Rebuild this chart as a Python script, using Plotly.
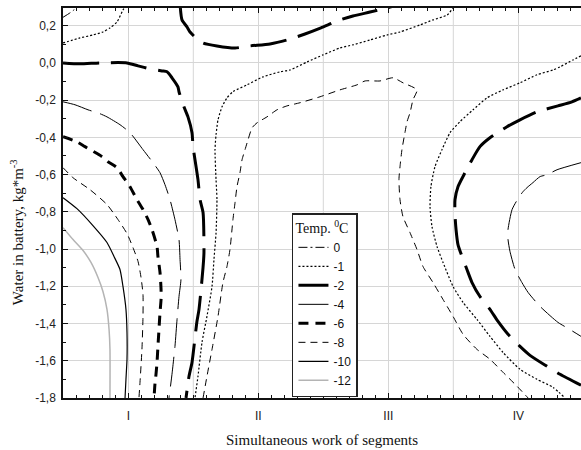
import plotly.graph_objects as go

# Axis categories and ticks
segment_names = ["I", "II", "III", "IV"]
segment_pos = [1, 2, 3, 4]
half_steps = [1.5, 2.5, 3.5]
water_vals = [0.2, 0.0, -0.2, -0.4, -0.6, -0.8, -1.0, -1.2, -1.4, -1.6, -1.8]
water_text = ["0,2", "0,0", "-0,2", "-0,4", "-0,6", "-0,8", "-1,0", "-1,2", "-1,4", "-1,6", "-1,8"]

# Isotherm 0 degC
t0_a_x = [0.498, 0.55, 0.61]
t0_a_y = [0.245, 0.268, 0.3]

# Isotherm -1 degC
t1_a_x = [0.498, 0.628, 0.728, 0.805, 0.859, 0.913, 0.959, 0.99]
t1_a_y = [0.107, 0.134, 0.15, 0.166, 0.188, 0.22, 0.284, 0.316]
t1_b_x = [3.521, 3.498, 3.452, 3.344, 3.244, 3.09, 2.99, 2.859, 2.728, 2.628, 2.498, 2.375,
          2.244, 2.167, 2.036, 1.913, 1.805, 1.759, 1.721, 1.69, 1.675, 1.667, 1.675, 1.682,
          1.675, 1.659, 1.644, 1.605, 1.567, 1.536, 1.513]
t1_b_y = [0.316, 0.295, 0.257, 0.231, 0.204, 0.166, 0.15, 0.123, 0.097, 0.08, 0.043, 0.005,
          -0.038, -0.048, -0.075, -0.118, -0.155, -0.188, -0.236, -0.306, -0.386, -0.466, -0.627, -0.735,
          -0.912, -1.056, -1.201, -1.362, -1.501, -1.684, -1.8]
t1_c_x = [4.482, 4.421, 4.321, 4.267, 4.144, 4.013, 3.882, 3.759, 3.652, 3.551, 3.475, 3.413,
          3.359, 3.328, 3.321, 3.336, 3.375, 3.421, 3.498, 3.575, 3.682, 3.782, 3.882, 4.013,
          4.144, 4.267, 4.359]
t1_c_y = [0.038, 0.016, -0.021, -0.038, -0.064, -0.107, -0.145, -0.188, -0.252, -0.316, -0.375, -0.466,
          -0.558, -0.665, -0.772, -0.879, -0.987, -1.072, -1.201, -1.287, -1.378, -1.469, -1.555, -1.646,
          -1.7, -1.743, -1.8]

# Isotherm -2 degC
t2_a_x = [1.398, 1.413, 1.452, 1.475, 1.528, 1.575, 1.682, 1.821, 1.936, 2.09, 2.221, 2.359,
          2.482, 2.628, 2.728, 2.859, 2.99, 3.09]
t2_a_y = [0.316, 0.231, 0.193, 0.166, 0.129, 0.107, 0.091, 0.08, 0.091, 0.102, 0.123, 0.155,
          0.188, 0.231, 0.252, 0.273, 0.295, 0.316]
t2_b_x = [0.498, 0.628, 0.782, 0.99, 1.075, 1.167, 1.259, 1.298, 1.336, 1.382, 1.39, 1.428,
          1.459, 1.49, 1.498, 1.513, 1.536, 1.552, 1.575, 1.582, 1.575, 1.544, 1.528, 1.49,
          1.467, 1.444]
t2_b_y = [0.0, -0.005, 0.0, 0.0, -0.016, -0.032, -0.043, -0.048, -0.08, -0.129, -0.155, -0.236,
          -0.29, -0.375, -0.45, -0.52, -0.627, -0.735, -0.804, -1.019, -1.099, -1.324, -1.389, -1.609,
          -1.684, -1.8]
t2_c_x = [4.482, 4.413, 4.305, 4.144, 4.013, 3.913, 3.782, 3.705, 3.644, 3.59, 3.536, 3.513,
          3.513, 3.521, 3.536, 3.567, 3.605, 3.644, 3.705, 3.782, 3.844, 3.921, 4.013, 4.09,
          4.221, 4.321, 4.482]
t2_c_y = [-0.188, -0.209, -0.231, -0.263, -0.306, -0.343, -0.402, -0.45, -0.52, -0.59, -0.665, -0.735,
          -0.815, -0.895, -0.976, -1.04, -1.11, -1.18, -1.255, -1.324, -1.389, -1.458, -1.523, -1.571,
          -1.63, -1.673, -1.732]

# Isotherm -4 degC
t4_a_x = [0.498, 0.59, 0.69, 0.782, 0.836, 0.936, 1.013, 1.113, 1.19, 1.244, 1.282, 1.321,
          1.359, 1.39, 1.398, 1.405, 1.39, 1.375, 1.359, 1.336, 1.313]
t4_a_y = [-0.209, -0.225, -0.252, -0.273, -0.29, -0.332, -0.375, -0.466, -0.536, -0.59, -0.654, -0.735,
          -0.842, -0.949, -1.056, -1.164, -1.255, -1.378, -1.523, -1.673, -1.8]
t4_b_x = [4.482, 4.298, 4.221, 4.167, 4.113, 4.067, 4.036, 3.998, 3.952, 3.921, 3.921, 3.936,
          3.975, 4.028, 4.075, 4.167, 4.305, 4.382, 4.482]
t4_b_y = [-0.536, -0.574, -0.601, -0.611, -0.643, -0.67, -0.692, -0.729, -0.788, -0.895, -0.949, -1.013,
          -1.11, -1.18, -1.233, -1.308, -1.394, -1.426, -1.469]

# Isotherm -6 degC
t6_x = [0.498, 0.605, 0.667, 0.798, 0.844, 0.913, 0.959, 1.013, 1.067, 1.113, 1.152, 1.182,
        1.221, 1.228, 1.244, 1.252, 1.252, 1.244, 1.236, 1.228, 1.221, 1.213, 1.205, 1.198]
t6_y = [-0.397, -0.424, -0.45, -0.504, -0.531, -0.563, -0.611, -0.665, -0.735, -0.788, -0.842, -0.895,
        -0.987, -1.04, -1.126, -1.217, -1.271, -1.34, -1.432, -1.523, -1.609, -1.673, -1.726, -1.8]

# Isotherm -8 degC
t8_a_x = [0.498, 0.575, 0.705, 0.836, 0.921, 0.99, 1.036, 1.075, 1.098, 1.113, 1.113, 1.105,
          1.09, 1.082]
t8_a_y = [-0.563, -0.617, -0.681, -0.761, -0.842, -0.917, -0.992, -1.067, -1.153, -1.244, -1.362, -1.539,
          -1.716, -1.8]
t8_b_x = [1.575, 1.605, 1.644, 1.69, 1.728, 1.759, 1.782, 1.805, 1.821, 1.836, 1.859, 1.875,
          1.898, 1.921, 1.952, 1.99, 2.067, 2.144, 2.221, 2.321, 2.475, 2.628, 2.759, 2.821,
          2.936, 3.036, 3.113, 3.221, 3.19, 3.167, 3.144, 3.128, 3.105, 3.09, 3.082, 3.09,
          3.113, 3.167, 3.221, 3.267, 3.344, 3.421, 3.498, 3.575, 3.682, 3.782, 3.882, 3.99,
          4.075]
t8_b_y = [-1.8, -1.684, -1.539, -1.362, -1.18, -1.094, -1.003, -0.842, -0.751, -0.665, -0.59, -0.52,
          -0.466, -0.413, -0.349, -0.322, -0.29, -0.252, -0.231, -0.214, -0.182, -0.145, -0.118, -0.097,
          -0.097, -0.08, -0.107, -0.145, -0.198, -0.268, -0.316, -0.375, -0.466, -0.558, -0.627, -0.735,
          -0.826, -0.912, -1.003, -1.094, -1.18, -1.271, -1.362, -1.458, -1.539, -1.592, -1.662, -1.737,
          -1.8]

# Isotherm -10 degC
t10_x = [0.498, 0.605, 0.728, 0.836, 0.89, 0.936, 0.959, 0.982, 0.99, 0.99, 0.982, 0.975]
t10_y = [-0.724, -0.783, -0.874, -0.965, -1.04, -1.11, -1.201, -1.324, -1.448, -1.592, -1.7, -1.8]

# Isotherm -12 degC
t12_x = [0.498, 0.575, 0.652, 0.713, 0.767, 0.805, 0.836, 0.852, 0.859, 0.859]
t12_y = [-0.885, -0.949, -1.008, -1.072, -1.153, -1.228, -1.324, -1.432, -1.539, -1.8]

isotherms = [
    ("0", [(t0_a_x, t0_a_y)]),
    ("-1", [(t1_a_x, t1_a_y), (t1_b_x, t1_b_y), (t1_c_x, t1_c_y)]),
    ("-2", [(t2_a_x, t2_a_y), (t2_b_x, t2_b_y), (t2_c_x, t2_c_y)]),
    ("-4", [(t4_a_x, t4_a_y), (t4_b_x, t4_b_y)]),
    ("-6", [(t6_x, t6_y)]),
    ("-8", [(t8_a_x, t8_a_y), (t8_b_x, t8_b_y)]),
    ("-10", [(t10_x, t10_y)]),
    ("-12", [(t12_x, t12_y)]),
]

line_styles = {
    "0": dict(color="black", width=1, dash="9px,3px,2px,3px"),
    "-1": dict(color="black", width=1.2, dash="2px,2px"),
    "-2": dict(color="black", width=3, dash="36px,12px"),
    "-4": dict(color="black", width=1, dash="30px,9px"),
    "-6": dict(color="black", width=3, dash="10px,7px"),
    "-8": dict(color="black", width=1, dash="7px,5px"),
    "-10": dict(color="black", width=1.2),
    "-12": dict(color="#b4b4b4", width=1.5),
}

fig = go.Figure()
for name, parts in isotherms:
    for i, (xs, ys) in enumerate(parts):
        fig.add_trace(go.Scatter(
            x=xs, y=ys, mode="lines", name=name,
            legendgroup=name, showlegend=(i == 0),
            line=dict(**line_styles[name], shape="spline", smoothing=0.6),
            hoverinfo="skip",
        ))

sans = "Liberation Sans, Arial, sans-serif"
serif = "Liberation Serif, Times New Roman, serif"
grid = "#d6d6d6"

# grid lines halfway between segments
for hx in half_steps:
    fig.add_vline(x=hx, line=dict(color=grid, width=1), layer="below")

fig.update_layout(
    width=581, height=450,
    margin=dict(l=63, r=0, t=8, b=52),
    paper_bgcolor="white", plot_bgcolor="white",
    font=dict(family=sans, size=12, color="#222"),
    showlegend=True,
    legend=dict(
        x=0.442, y=0.474, xanchor="left", yanchor="top",
        bgcolor="white", bordercolor="#222", borderwidth=1.5,
        font=dict(family=sans, size=12, color="#111"),
        title=dict(text="Temp. <sup>0</sup>C", font=dict(family=serif, size=14, color="#111")),
        tracegroupgap=0, itemwidth=30,
    ),
    xaxis=dict(
        range=[0.4977, 4.4823], showline=True, linecolor="#111", linewidth=1.5,
        mirror="allticks", ticks="inside", ticklen=5, tickcolor="#111",
        tickmode="array", tickvals=segment_pos, ticktext=segment_names,
        showgrid=True, gridcolor=grid, gridwidth=1, zeroline=False,
        minor=dict(tick0=0.5, dtick=0.1, ticks="inside", ticklen=3, tickcolor="#111", showgrid=False),
        ticklabelstandoff=6,
        tickfont=dict(family=sans, size=12, color="#222"),
    ),
    yaxis=dict(
        range=[-1.8003, 0.2949], showline=True, linecolor="#111", linewidth=1.5,
        ticks="inside", ticklen=5, tickcolor="#111",
        tickmode="array", tickvals=water_vals, ticktext=water_text,
        showgrid=True, gridcolor=grid, gridwidth=1, zeroline=False,
        minor=dict(tick0=0.0, dtick=0.1, ticks="inside", ticklen=3, tickcolor="#111", showgrid=False),
        ticklabelstandoff=3,
        tickfont=dict(family=sans, size=12, color="#222"),
    ),
    annotations=[
        dict(text="Simultaneous work of segments", xref="paper", yref="paper",
             x=0.5, y=-0.108, xanchor="center", yanchor="middle", showarrow=False,
             font=dict(family=serif, size=15, color="#111")),
        dict(text="Water in battery, kg*m<sup>-3</sup>", xref="paper", yref="paper",
             x=-0.089, y=0.425, xanchor="center", yanchor="middle", textangle=-90,
             showarrow=False, font=dict(family=serif, size=15, color="#111")),
    ],
)

fig.write_html("out.html")
